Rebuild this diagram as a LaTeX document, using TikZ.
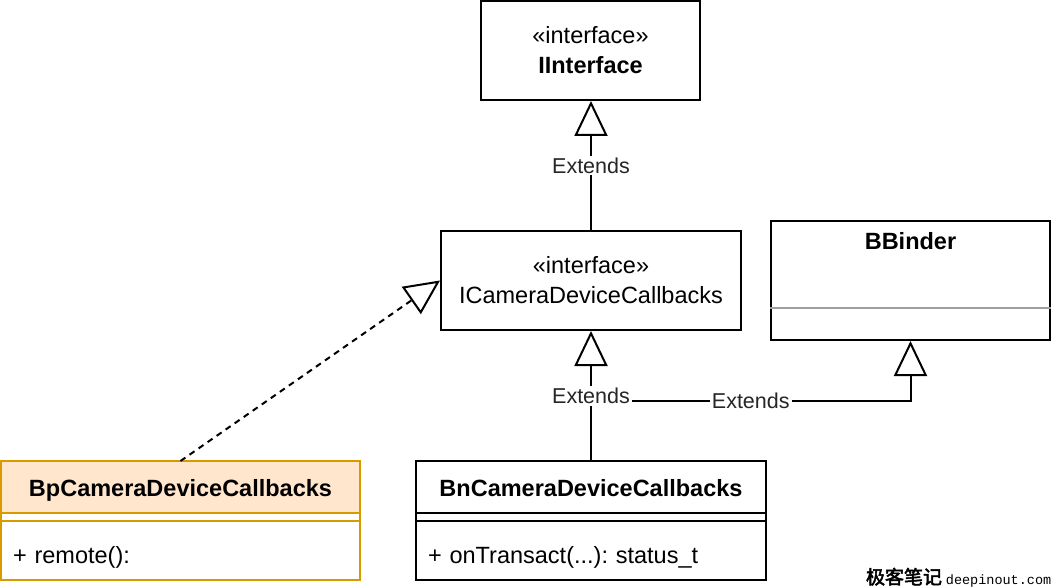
\documentclass[tikz,border=0pt]{standalone}
\usepackage{fontspec}
\setmainfont{Liberation Sans}
\setmonofont{Liberation Mono}
\newfontfamily\cjk[FakeBold=2.5]{Noto Sans CJK SC}
\usetikzlibrary{arrows.meta}
\definecolor{bpfill}{HTML}{FFE6CC}
\definecolor{bpline}{HTML}{D79B00}
\frenchspacing

\begin{document}
\begin{tikzpicture}[x=1pt, y=-1pt, line width=2pt,
	every node/.style={font=\fontsize{23.5}{30}\selectfont},
	lbl/.style={fill=white, inner sep=2pt, text=black!85, font=\fontsize{21.5}{26}\selectfont},
	ext/.style={-{Triangle[open, length=35pt, width=33pt]}},
	part/.style={rectangle, draw, outer sep=0pt},
	head/.style={part, minimum height=52pt, text height=23pt, text depth=5pt},
	meth/.style={part, minimum height=59pt, inner xsep=12pt, inner ysep=0pt, align=left, text height=31pt, text depth=5pt},
	]
	\useasboundingbox (0,0) rectangle (1054,588);

	\node at (590.5,50.5) [rectangle, draw, minimum width=219pt, minimum height=99pt, align=center] (iintf) {«interface»\\\textbf{IInterface}};
	\node at (591,280.5) [rectangle, draw, minimum width=300pt, minimum height=99pt, align=center] (icam) {«interface»\\ICameraDeviceCallbacks};

	% BBinder, one gray divider
	\node at (910.5,280.5) [rectangle, draw, minimum width=279pt, minimum height=119pt] (bb) {};
	\node at (910.5,241) (bbname) {\textbf{BBinder}};
	\path (bb.south west) ++(0,-33) coordinate (bbdiv);
	\draw [gray!75, line width=1.5pt] (bbdiv) -- (bbdiv -| bb.east);

	% proxy side
	\node at (180.5,487) [head, draw=bpline, fill=bpfill, minimum width=359pt] (bphead) {\textbf{BpCameraDeviceCallbacks}};
	\node at (bphead.south) [anchor=north, part, draw=bpline, minimum width=359pt, minimum height=8pt, inner sep=0pt] (bpattr) {};
	\node at (bpattr.south) [anchor=north, meth, draw=bpline, minimum width=359pt, text width=335pt] (bpmeth) {+ remote():};

	% native side
	\node at (591,487) [head, minimum width=350pt] (bnhead) {\textbf{BnCameraDeviceCallbacks}};
	\node at (bnhead.south) [anchor=north, part, minimum width=350pt, minimum height=8pt, inner sep=0pt] (bnattr) {};
	\node at (bnattr.south) [anchor=north, meth, minimum width=350pt, text width=326pt] (bnmeth) {+ onTransact(...): status\_t};

	\coordinate (jn) at (591,401);

	\draw [ext] (jn) -| (bb.south) node [pos=0.25, lbl] {Extends};
	\draw [ext] (bnhead.north) -- (icam.south) node [midway, lbl] {Extends};
	\draw [ext] (icam.north) -- (icam.north |- iintf.south) node [midway, lbl] {Extends};
	\draw [ext, dashed, dash pattern=on 6pt off 5pt] (bphead.north) -- (icam.west);

	\node at (865,584) [anchor=base west, inner sep=0pt] (wm) {{\cjk\fontsize{19}{19}\selectfont 极客笔记}\,{\ttfamily\fontsize{13.5}{13.5}\selectfont deepinout.com}};

\end{tikzpicture}
\end{document}
